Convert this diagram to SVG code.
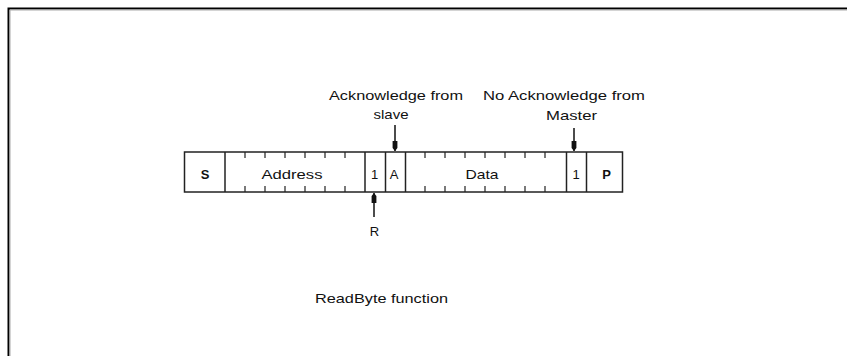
<svg xmlns="http://www.w3.org/2000/svg" width="847" height="356" viewBox="0 0 847 356">
  <style>
    .lbl { font-family: "Liberation Sans", Arial, sans-serif; font-size: 13px; fill: #111; text-anchor: middle; }
    .bold { font-weight: bold; }
    .cell { fill: #fff; stroke: #222; stroke-width: 1.5; }
    .div { stroke: #222; stroke-width: 1.5; fill: none; }
    .tick { stroke: #222; stroke-width: 1.2; fill: none; }
    .conn { stroke: #111; stroke-width: 1.5; fill: none; }
  </style>
  <defs>
    <marker id="head" viewBox="0 0 10 6" refX="10" refY="3" markerWidth="10" markerHeight="6" markerUnits="userSpaceOnUse" orient="auto">
      <path d="M0,0.6 L7,0.6 L10,3 L7,5.4 L0,5.4 z" fill="#111"/>
    </marker>
  </defs>

  <rect width="847" height="356" fill="#fff"/>

  <!-- page frame -->
  <g id="frame">
    <path d="M8.5,356 V8.5 H847" fill="none" stroke="#000" stroke-width="2"/>
    <path d="M10,356 V10 H847" fill="none" stroke="#aaa" stroke-width="1"/>
  </g>

  <!-- frame bar -->
  <g id="bar">
    <rect class="cell" x="184.5" y="152" width="438" height="40"/>
  </g>

  <g id="cell-s">
    <line class="div" x1="225" y1="152" x2="225" y2="192"/>
    <text class="lbl bold" x="205" y="179">S</text>
  </g>

  <g id="cell-address">
    <line class="div" x1="365" y1="152" x2="365" y2="192"/>
    <path class="tick" d="M245,152v6M265,152v6M285,152v6M305,152v6M325,152v6M345,152v6M245,192v-6M265,192v-6M285,192v-6M305,192v-6M325,192v-6M345,192v-6"/>
    <text class="lbl" x="292" y="179" textLength="61" lengthAdjust="spacingAndGlyphs">Address</text>
  </g>

  <g id="cell-r">
    <line class="div" x1="385.5" y1="152" x2="385.5" y2="192"/>
    <text class="lbl" x="374.5" y="179">1</text>
  </g>

  <g id="cell-a">
    <line class="div" x1="405.5" y1="152" x2="405.5" y2="192"/>
    <text class="lbl" x="394" y="179">A</text>
  </g>

  <g id="cell-data">
    <line class="div" x1="566.5" y1="152" x2="566.5" y2="192"/>
    <path class="tick" d="M425,152v6M445,152v6M465,152v6M485,152v6M505,152v6M525,152v6M545,152v6M425,192v-6M445,192v-6M465,192v-6M485,192v-6M505,192v-6M525,192v-6M545,192v-6"/>
    <text class="lbl" x="482" y="179" textLength="33" lengthAdjust="spacingAndGlyphs">Data</text>
  </g>

  <g id="cell-nack">
    <line class="div" x1="586.5" y1="152" x2="586.5" y2="192"/>
    <text class="lbl" x="576" y="179">1</text>
  </g>

  <g id="cell-p">
    <text class="lbl bold" x="606.5" y="179">P</text>
  </g>

  <!-- connectors -->
  <g id="connectors">
    <line class="conn" x1="395" y1="125" x2="395" y2="151" marker-end="url(#head)"/>
    <line class="conn" x1="574" y1="128" x2="574" y2="151" marker-end="url(#head)"/>
    <line class="conn" x1="374" y1="217" x2="374" y2="193" marker-end="url(#head)"/>
  </g>

  <g id="label-ack">
    <text class="lbl" x="396" y="100" textLength="134" lengthAdjust="spacingAndGlyphs">Acknowledge from</text>
    <text class="lbl" x="391" y="119" textLength="35" lengthAdjust="spacingAndGlyphs">slave</text>
  </g>

  <g id="label-nack">
    <text class="lbl" x="564" y="100" textLength="162" lengthAdjust="spacingAndGlyphs">No Acknowledge from</text>
    <text class="lbl" x="571.5" y="119.5" textLength="51" lengthAdjust="spacingAndGlyphs">Master</text>
  </g>

  <g id="label-r">
    <text class="lbl" x="374.5" y="236">R</text>
  </g>

  <g id="caption">
    <text class="lbl" x="381.5" y="303" textLength="133" lengthAdjust="spacingAndGlyphs">ReadByte function</text>
  </g>
</svg>
